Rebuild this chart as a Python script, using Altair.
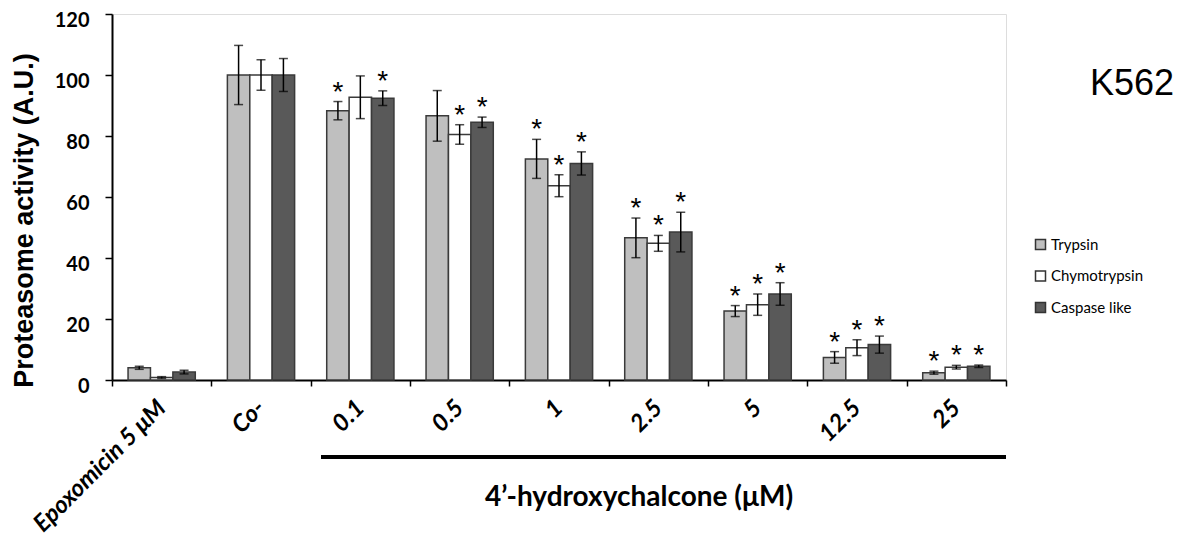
import altair as alt
import pandas as pd

categories = ["Epoxomicin 5 μM", "Co-", "0.1", "0.5", "1", "2.5", "5", "12.5", "25"]
series = ["Trypsin", "Chymotrypsin", "Caspase like"]
colors = ["#bfbfbf", "#ffffff", "#595959"]

trypsin = [4.0, 100, 88.3, 86.6, 72.5, 46.6, 22.6, 7.4, 2.4]
trypsin_err = [0.5, 9.7, 3.0, 8.3, 6.4, 6.5, 1.8, 1.9, 0.5]
trypsin_sig = [0, 0, 1, 0, 1, 1, 1, 1, 1]

chymo = [0.8, 100, 92.7, 80.5, 63.7, 44.8, 24.7, 10.6, 4.2]
chymo_err = [0.3, 5.0, 7.0, 3.2, 3.6, 2.6, 3.5, 2.6, 0.6]
chymo_sig = [0, 0, 0, 1, 1, 1, 1, 1, 1]

caspase = [2.6, 100, 92.4, 84.5, 71.0, 48.5, 28.2, 11.6, 4.5]
caspase_err = [0.6, 5.4, 2.4, 1.7, 3.8, 6.5, 3.7, 2.8, 0.4]
caspase_sig = [0, 0, 1, 1, 1, 1, 1, 1, 1]

rows = []
for s, vals, errs, sigs in [
    ("Trypsin", trypsin, trypsin_err, trypsin_sig),
    ("Chymotrypsin", chymo, chymo_err, chymo_sig),
    ("Caspase like", caspase, caspase_err, caspase_sig),
]:
    for c, v, e, g in zip(categories, vals, errs, sigs):
        rows.append({"cat": c, "series": s, "value": v, "lo": v - e, "hi": v + e, "sig": g})
df = pd.DataFrame(rows)

W, H = 894, 366

x_enc = alt.X(
    "cat:N",
    sort=categories,
    scale=alt.Scale(paddingInner=0, paddingOuter=0),
    axis=alt.Axis(
        title=None,
        labelAngle=-45,
        labelAlign="right",
        labelBaseline="middle",
        labelPadding=18,
        labelFont="Lato",
        labelFontSize=24,
        labelFontStyle="italic",
        labelFontWeight="bold",
        labelColor="black",
        labelLimit=400,
        tickBand="extent",
        tickSize=6,
        tickWidth=1.5,
        tickColor="black",
        domainColor="black",
        domainWidth=2,
    ),
)
xo_enc = alt.XOffset(
    "series:N", sort=series, scale=alt.Scale(paddingOuter=0.716, paddingInner=0)
)

base = alt.Chart(df)

bars = base.mark_bar(stroke="#3a3a3a", strokeWidth=1.5).encode(
    x=x_enc,
    xOffset=xo_enc,
    y=alt.Y(
        "value:Q",
        scale=alt.Scale(domain=[0, 120], nice=False),
        axis=alt.Axis(
            title="Proteasome activity (A.U.)",
            titleFont="Liberation Sans",
            titleFontSize=27,
            titleFontWeight="bold",
            titleColor="black",
            titleX=-88,
            titleY=206,
            titleAlign="center",
            titleBaseline="middle",
            titleAngle=-90,
            values=[0, 20, 40, 60, 80, 100, 120],
            labelFont="Lato",
            labelFontSize=20,
            labelFontWeight="bold",
            labelColor="black",
            labelPadding=16,
            labelBaseline="middle",
            labelOffset=6,
            tickSize=7,
            tickWidth=1.5,
            tickColor="black",
            domainColor="black",
            domainWidth=2,
            grid=False,
        ),
    ),
    color=alt.Color(
        "series:N",
        sort=series,
        scale=alt.Scale(domain=series, range=colors),
        legend=alt.Legend(
            orient="none",
            legendX=921,
            legendY=223,
            title=None,
            symbolType="square",
            symbolSize=100,
            symbolStrokeColor="#333333",
            symbolStrokeWidth=1.5,
            symbolOpacity=1,
            labelFont="Lato",
            labelFontSize=15,
            labelColor="black",
            labelOffset=3,
            rowPadding=14.5,
        ),
    ),
)

rules = base.mark_rule(color="black", strokeWidth=1.5).encode(
    x=x_enc, xOffset=xo_enc, y="lo:Q", y2="hi:Q"
)
caps_hi = base.mark_tick(color="black", thickness=1.5, size=9).encode(
    x=x_enc, xOffset=xo_enc, y="hi:Q"
)
caps_lo = base.mark_tick(color="black", thickness=1.5, size=9).encode(
    x=x_enc, xOffset=xo_enc, y="lo:Q"
)
stars = base.transform_filter("datum.sig == 1").mark_text(
    text="*", font="Liberation Sans", fontSize=28, baseline="alphabetic", dy=-1, color="black"
).encode(x=x_enc, xOffset=xo_enc, y="hi:Q")

ann = alt.Chart(pd.DataFrame({"a": [0]}))
bracket = ann.mark_rule(color="black", strokeWidth=4).encode(
    x=alt.value(209), x2=alt.value(894), y=alt.value(443)
)
xtitle = ann.mark_text(
    text="4’-hydroxychalcone (μM)", font="Lato", fontSize=28, fontWeight="bold",
    align="center", baseline="middle", color="black"
).encode(x=alt.value(527), y=alt.value(484))
k562 = ann.mark_text(
    text="K562", font="Liberation Sans", fontSize=36, align="left",
    baseline="alphabetic", color="black"
).encode(x=alt.value(978), y=alt.value(81))

chart = alt.layer(bars, rules, caps_hi, caps_lo, stars, bracket, xtitle, k562).properties(
    width=W,
    height=H,
    autosize=alt.AutoSizeParams(type="none"),
    padding={"left": 104, "top": 6, "right": 178, "bottom": 158},
).configure_view(stroke="black", strokeWidth=1.5).configure(background="white")

chart.save("out.html", embed_options={"renderer": "svg", "actions": False})
